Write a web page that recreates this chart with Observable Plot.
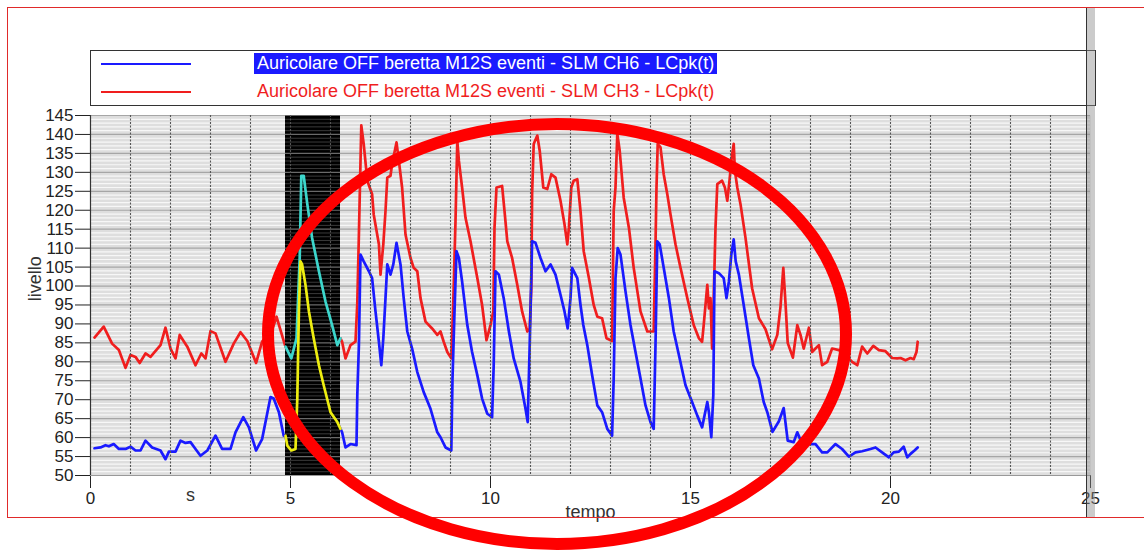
<!DOCTYPE html>
<html>
<head>
<meta charset="utf-8">
<script src="https://cdn.jsdelivr.net/npm/d3@7"></script>
<script src="https://cdn.jsdelivr.net/npm/@observablehq/plot@0.6"></script>
<style>
  html, body { margin: 0; padding: 0; background: #fff; }
  #wrap { position: relative; width: 1144px; height: 551px; overflow: hidden; font-family: "Liberation Sans", Arial, sans-serif; }
  #wrap svg { position: absolute; left: 0; top: 0; }
  #frame { position: absolute; left: 7px; top: 7px; width: 1150px; height: 511px; border: 1px solid #e02a2a; box-sizing: border-box; }
  #band { position: absolute; left: 1086px; top: 8px; width: 9px; height: 509px; background: rgba(140,140,140,0.45); border-left: 1.5px solid #333; box-sizing: border-box; }
  #legend { position: absolute; left: 90px; top: 50px; width: 1006px; height: 56px; border: 1px solid #333; box-sizing: border-box; background: #fff; }
  .row { position: absolute; left: 0; height: 22px; }
  .swatch { position: absolute; left: 10px; width: 90px; height: 0; border-top: 2.5px solid; }
  .lbl { position: absolute; left: 163px; font-size: 18px; line-height: 21px; white-space: nowrap; padding: 0 3px; }
  #mark { position: absolute; left: 0; top: 0; pointer-events: none; }
</style>
</head>
<body>
<div id="wrap">
  <div id="chart"></div>
  <div id="frame"></div>
  <div id="legend">
    <div class="row" style="top:2px"><div class="swatch" style="top:10px;border-color:#1a1aff"></div><span class="lbl" id="l1" style="background:#1a1aff;color:#fff;"></span></div>
    <div class="row" style="top:30px"><div class="swatch" style="top:10px;border-color:#f01e1e"></div><span class="lbl" id="l2" style="color:#f01e1e;"></span></div>
  </div>
  <div id="band"></div>
  <svg id="mark" width="1144" height="551"><ellipse cx="557" cy="334" rx="289" ry="210" fill="none" stroke="#ff0000" stroke-width="12"/></svg>
</div>
<script>
// ---- series labels
const seriesNames = [
  "Auricolare OFF beretta M12S eventi - SLM CH6 - LCpk(t)",
  "Auricolare OFF beretta M12S eventi - SLM CH3 - LCpk(t)"
];

// ---- axis ticks
const xTicks = [0, 5, 10, 15, 20, 25];
const yTicks = [50,55,60,65,70,75,80,85,90,95,100,105,110,115,120,125,130,135,140,145];

// ---- selected interval (black band), seconds
const selStart = 4.875;
const selEnd = 6.25;

// ---- CH3 (red) time [s] and level [dB]
const redT = [0.10,0.33,0.54,0.71,0.875,1.0,1.125,1.23,1.375,1.5,1.75,1.875,2.0,2.125,2.23,2.42,2.625,2.77,2.875,3.0,3.125,3.375,3.58,3.75,3.92,4.14,4.29,4.54,4.65,4.83,
  4.875,5.02,5.15,5.23,5.27,5.33,5.42,5.54,5.71,5.875,6.04,6.17,6.25,
  6.29,6.375,6.5,6.625,6.67,6.71,6.77,6.83,6.92,7.04,7.08,7.21,7.25,7.32,7.375,7.42,7.5,7.54,7.65,7.71,7.79,7.875,8.0,8.08,8.17,8.25,8.375,8.54,8.67,8.75,8.83,8.92,9.02,
  9.07,9.125,9.17,9.21,9.29,9.375,9.5,9.67,9.79,9.9,10.0,10.07,10.1,10.15,10.29,10.35,10.42,10.54,10.67,10.79,10.92,10.98,
  11.02,11.04,11.08,11.17,11.23,11.32,11.42,11.52,11.625,11.75,11.85,11.92,11.96,12.02,12.08,12.17,12.25,12.33,12.46,12.58,12.67,12.79,12.9,13.04,
  13.08,13.125,13.17,13.23,13.33,13.46,13.58,13.75,13.92,14.08,14.125,14.15,14.18,14.25,14.33,14.42,14.5,14.625,14.75,14.92,15.08,15.21,15.29,15.33,15.42,15.46,15.5,15.54,15.58,
  15.625,15.67,15.79,15.86,15.92,15.975,16.03,16.08,16.11,16.17,16.25,16.375,16.54,16.71,16.875,17.04,17.17,17.25,17.32,17.375,17.43,17.56,17.67,17.75,17.83,17.96,
  18.04,18.125,18.21,18.29,18.42,18.54,18.71,18.875,19.04,19.17,19.29,19.42,19.57,19.71,19.875,20.04,20.17,20.25,20.375,20.5,20.58,20.65,20.68];
const redV = [86.4,89.3,84.8,83.1,78.4,81.8,81.3,79.7,82.2,81.3,84.4,89.0,83.5,80.9,87.1,84.0,79.1,82.2,80.9,88.1,87.5,80.0,84.8,87.8,85.5,79.7,85.3,88.4,91.9,85.5,
  84.0,80.9,86.2,107.4,129.1,129.1,121.6,112.7,103.9,95.9,89.7,84.4,86.2,
  85.3,80.9,84.4,85.3,95.5,113.6,142.4,137.5,127.8,124.2,118.9,111.0,103.0,111.0,119.8,128.6,129.1,132.2,137.9,133.0,126.0,113.6,107.4,104.8,103.9,96.8,90.6,88.8,87.1,88.0,85.3,82.6,80.9,
  95.9,117.1,138.4,133.0,126.0,118.0,111.8,102.1,95.0,85.7,89.7,93.3,115.4,126.0,126.4,119.8,111.8,107.4,100.3,93.3,88.0,88.8,
  99.4,124.2,137.5,139.7,135.7,126.0,125.6,129.5,128.6,122.5,116.3,111.0,115.4,126.0,127.8,128.2,119.8,109.2,102.1,95.0,91.9,91.5,86.2,85.5,
  119.8,126.0,140.2,135.7,123.3,115.4,104.8,93.3,88.0,88.0,111.0,126.0,137.5,136.6,129.5,124.2,118.9,111.0,104.8,96.8,89.7,86.2,85.3,89.7,100.3,94.1,96.8,83.5,96.8,
  115.4,126.9,127.8,126.0,122.5,127.8,133.9,137.5,130.4,126.0,121.6,112.7,99.4,91.5,88.6,83.3,87.1,94.5,104.8,95.5,85.0,81.1,89.7,87.1,83.5,89.0,
  82.6,83.5,84.4,79.1,80.0,83.5,83.1,81.8,80.0,79.1,84.0,82.2,84.2,83.1,82.8,81.0,80.9,81.0,80.4,81.0,80.7,82.6,85.3];

// ---- CH6 (blue) time [s] and level [dB]
const blueT = [0.1,0.25,0.375,0.46,0.58,0.71,0.875,1.0,1.125,1.25,1.375,1.54,1.75,1.875,1.96,2.125,2.25,2.375,2.5,2.625,2.75,2.92,3.125,3.29,3.5,3.625,3.82,3.96,4.14,4.29,4.5,4.58,4.71,4.83,
  4.875,4.92,5.02,5.125,5.17,5.21,5.25,5.29,5.375,5.46,5.58,5.71,5.83,6.0,6.17,6.25,
  6.29,6.375,6.5,6.65,6.67,6.71,6.75,6.83,6.96,7.04,7.125,7.21,7.27,7.32,7.375,7.42,7.5,7.57,7.65,7.75,7.83,7.92,8.04,8.17,8.33,8.5,8.67,8.75,8.875,9.02,
  9.05,9.1,9.15,9.21,9.29,9.42,9.54,9.67,9.79,9.92,10.04,10.08,10.125,10.21,10.33,10.46,10.58,10.75,10.875,10.93,
  10.98,11.04,11.125,11.25,11.375,11.5,11.625,11.75,11.85,11.93,12.0,12.04,12.17,12.25,12.32,12.42,12.54,12.67,12.79,12.92,13.04,
  13.08,13.125,13.18,13.25,13.375,13.5,13.625,13.75,13.875,14.0,14.08,14.125,14.17,14.23,14.33,14.46,14.58,14.71,14.875,15.04,15.17,15.29,15.42,15.46,15.52,15.57,
  15.6,15.71,15.83,15.9,15.96,16.02,16.08,16.13,16.21,16.33,16.46,16.57,16.71,16.83,16.92,17.05,17.21,17.33,17.43,17.58,17.67,17.79,17.96,
  18.125,18.29,18.42,18.625,18.79,18.96,19.125,19.29,19.5,19.625,19.79,19.96,20.08,20.21,20.33,20.42,20.5,20.6,20.68];
const blueV = [57.2,57.4,58.0,57.7,58.3,57.0,57.0,57.6,56.6,56.6,59.2,57.4,56.6,54.3,56.3,56.3,59.2,58.6,58.8,57.0,55.2,56.6,60.5,57.0,57.0,61.4,65.4,62.7,56.6,59.6,70.7,70.3,66.7,60.5,
  60.5,57.9,56.6,57.0,70.3,93.3,106.5,105.7,100.3,93.3,86.2,79.1,73.8,66.7,64.1,62.3,
  61.4,57.4,58.3,58.0,71.2,84.4,108.3,106.5,103.9,102.1,93.3,85.3,79.1,86.2,96.8,105.7,103.0,105.7,111.4,105.7,96.8,88.0,83.5,77.3,72.0,67.6,61.4,60.1,57.4,56.6,
  75.6,93.3,109.2,107.4,101.2,89.7,82.6,76.5,70.3,66.3,65.4,79.1,103.9,103.0,96.8,88.0,80.9,74.7,67.6,64.1,
  84.4,111.8,111.4,107.4,103.9,105.7,103.0,97.7,93.3,88.8,96.8,104.8,102.1,95.0,89.7,84.4,76.5,68.5,66.7,62.3,60.5,
  75.6,102.1,110.0,108.3,98.6,89.7,82.6,75.6,68.5,64.1,62.3,84.4,111.8,111.0,104.8,96.8,88.0,81.8,73.8,69.4,65.8,62.7,69.4,66.7,60.1,71.2,
  103.9,103.4,102.1,96.8,101.2,108.3,112.3,106.5,103.0,95.0,86.2,79.1,75.6,69.4,66.7,61.5,64.3,67.8,59.2,58.8,61.4,58.3,58.3,
  58.3,56.1,56.1,58.3,57.0,55.0,56.1,56.4,57.0,57.4,56.1,54.8,56.1,56.3,57.6,54.8,55.7,56.6,57.4];

document.getElementById("l1").textContent = seriesNames[0];
document.getElementById("l2").textContent = seriesNames[1];

const red = redT.map((t, i) => ({t, v: redV[i]}));
const blue = blueT.map((t, i) => ({t, v: blueV[i]}));
const inSel = d => d.t >= selStart && d.t <= selEnd;

const minorY = d3.range(50, 146).filter(v => v % 5 !== 0);
const majorY = d3.range(50, 146, 5);
const gridX = d3.range(1, 25);

const chart = Plot.plot({
  width: 1144,
  height: 551,
  marginLeft: 90,
  marginRight: 54,
  marginTop: 115,
  marginBottom: 76,
  style: {background: "transparent", color: "#222", fontFamily: "'Liberation Sans', Arial, sans-serif", fontSize: "17px"},
  x: {domain: [0, 25], ticks: xTicks, tickSize: 13, tickPadding: 3, tickFormat: d => String(d), label: null},
  y: {domain: [50, 145], ticks: yTicks, tickSize: 15, tickPadding: 2, tickFormat: d => String(d), label: null},
  marks: [
    Plot.frame({fill: "#dedede", stroke: null}),
    Plot.ruleY(minorY, {stroke: "#f7f7f7", strokeWidth: 1.2}),
    Plot.ruleY(majorY, {stroke: "#a6a6a6", strokeWidth: 1.2}),
    Plot.line(red, {x: "t", y: "v", stroke: "#f01e1e", strokeWidth: 2.7}),
    Plot.line(blue, {x: "t", y: "v", stroke: "#1a1aff", strokeWidth: 2.7}),
    Plot.rect([0], {x1: selStart, x2: selEnd, y1: 50, y2: 145, fill: "#000"}),
    Plot.ruleY(minorY, {x1: selStart, x2: selEnd, stroke: "#3a3a3a", strokeWidth: 1}),
    Plot.ruleY(majorY, {x1: selStart, x2: selEnd, stroke: "#6a6a6a", strokeWidth: 1.2}),
    Plot.ruleX(gridX, {stroke: "#555", strokeWidth: 1.1, strokeDasharray: "2,1.5"}),
    Plot.line(red, {filter: inSel, x: "t", y: "v", stroke: "#3cd6cc", strokeWidth: 2.7}),
    Plot.line(blue, {filter: inSel, x: "t", y: "v", stroke: "#eeee10", strokeWidth: 2.7}),
    Plot.ruleX([0], {stroke: "#333", strokeWidth: 1.2}),
    Plot.ruleY([50], {stroke: "#999", strokeWidth: 1.2}),
    Plot.text(["s"], {x: 2.5, frameAnchor: "bottom", dy: 25, fontSize: 18, fill: "#333"}),
    Plot.text(["tempo"], {x: 12.5, frameAnchor: "bottom", dy: 42, fontSize: 18, fill: "#333"}),
    Plot.text(["livello"], {y: 96, frameAnchor: "left", dx: -55, rotate: -90, fontSize: 18, fill: "#333"})
  ]
});
document.getElementById("chart").appendChild(chart);
</script>
</body>
</html>
